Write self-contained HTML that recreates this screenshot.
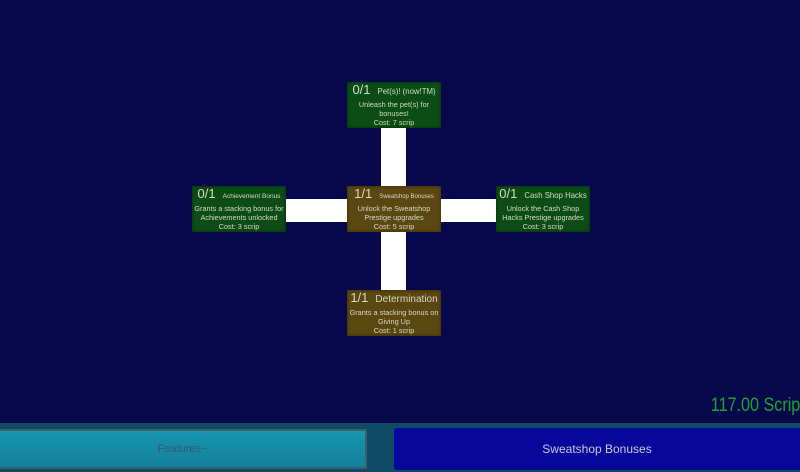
<!DOCTYPE html>
<html><head><meta charset="utf-8"><style>
*{margin:0;padding:0;box-sizing:border-box}
body{width:800px;height:472px;background:#07074b;position:relative;overflow:hidden;font-family:"Liberation Sans",sans-serif}
.n{position:absolute;width:94px;height:46px;color:#d8d8c8;text-align:center;font-size:7.3px;line-height:9px;box-shadow:inset 0 0 3px rgba(0,0,0,.5)}
.g{background:#0b4d14}
.b{background:#5b4710}
.h{display:flex;align-items:baseline;justify-content:center;gap:7px;margin-top:3px;height:15px}
.h b{font-weight:normal;font-size:13px}
.h span{font-size:7.8px}
.c{position:absolute;background:#fff}
</style></head><body>
<div class="c" style="left:381px;top:128px;width:25px;height:58px"></div>
<div class="c" style="left:381px;top:232px;width:25px;height:58px"></div>
<div class="c" style="left:286px;top:199px;width:61px;height:23px"></div>
<div class="c" style="left:440px;top:199px;width:57px;height:23px"></div>

<div class="n g" style="left:347px;top:82px"><div class="h"><b>0/1</b><span>Pet(s)! (now!TM)</span></div>Unleash the pet(s) for<br>bonuses!<br>Cost: 7 scrip</div>
<div class="n b" style="left:347px;top:186px"><div class="h"><b>1/1</b><span style="font-size:6px">Sweatshop Bonuses</span></div>Unlock the Sweatshop<br>Prestige upgrades<br>Cost: 5 scrip</div>
<div class="n g" style="left:192px;top:186px"><div class="h"><b>0/1</b><span style="font-size:6.5px">Achievement Bonus</span></div>Grants a stacking bonus for<br>Achievements unlocked<br>Cost: 3 scrip</div>
<div class="n g" style="left:496px;top:186px"><div class="h"><b>0/1</b><span>Cash Shop Hacks</span></div>Unlock the Cash Shop<br>Hacks Prestige upgrades<br>Cost: 3 scrip</div>
<div class="n b" style="left:347px;top:290px"><div class="h"><b>1/1</b><span style="font-size:10px">Determination</span></div>Grants a stacking bonus on<br>Giving Up<br>Cost: 1 scrip</div>

<div style="position:absolute;right:0;top:395px;color:#1aa52a;font-size:19px;transform:scaleX(0.85);transform-origin:right center;white-space:nowrap">117.00 Scrip</div>
<div style="position:absolute;left:0;top:423px;width:800px;height:49px;background:#0e4a66"></div>
<div style="position:absolute;left:0;top:429px;width:367px;height:40px;background:linear-gradient(#1896b0,#13809a);border:2px solid #3a6070;border-left:none;color:#3a5870;font-size:11px;text-align:center;line-height:36px">Features~</div>
<div style="position:absolute;left:394px;top:428px;width:406px;height:42px;background:#07089a;border-radius:3px 0 0 3px;color:#c8c8e0;font-size:12px;text-align:center;line-height:42px">Sweatshop Bonuses</div>
</body></html>
